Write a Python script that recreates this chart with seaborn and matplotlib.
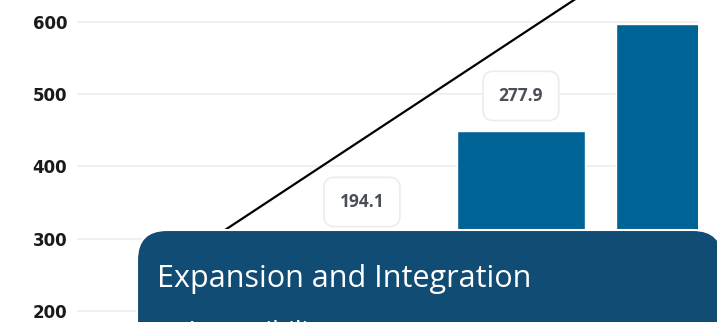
import matplotlib
matplotlib.use("Agg")
import matplotlib.pyplot as plt
from matplotlib.patches import FancyBboxPatch
import seaborn as sns

# Data
categories = ["Phase 1", "Phase 2", "Phase 3", "Phase 4"]
bar_values = [128.4, 194.1, 277.9, 362.6]     # bar series (secondary scale)
trend_values = [292, 437, 582, 727]          # growth line (left scale)
y_ticks = [200, 300, 400, 500, 600]

card_title = "Expansion and Integration"
card_item = "\u2022  Accessibility"

BAR_COLOR = "#006396"
CARD_COLOR = "#114c74"

sns.set_theme(style="white")
plt.rcParams["font.family"] = ["DejaVu Sans"]

fig = plt.figure(figsize=(7.17, 3.22), dpi=100)
fig.patch.set_facecolor("white")
ax = fig.add_axes([77 / 717, 0, 621 / 717, 1])
ax2 = ax.twinx()

# bars on the hidden secondary axis
sns.barplot(x=categories, y=bar_values, ax=ax2, color=BAR_COLOR,
            saturation=1, width=0.805, zorder=2)

# trend line on the left axis
ax.plot(range(len(categories)), trend_values, color="black", lw=1.6,
        solid_capstyle="round", zorder=3)

ax.set_xlim(-0.792, 3.114)
ax2.set_xlim(-0.792, 3.114)
ax.set_ylim(184.8, 630.4)
ax2.set_ylim(126.9, 381.4)

ax.set_yticks(y_ticks)
ax.set_yticklabels([str(t) for t in y_ticks], fontsize=12,
                   fontweight="bold", color="#1a1a1a")
ax.tick_params(axis="y", length=0, pad=7)
ax.set_xticks([])
ax2.set_yticks([])
ax2.set_xlabel("")
ax2.set_ylabel("")
ax.yaxis.grid(True, color="#efefef", lw=1.3)
ax.set_axisbelow(True)
for a in (ax, ax2):
    for s in a.spines.values():
        s.set_visible(False)

# value labels above the bars that stand clear of the card
card_top_value = 199.6
label_offset = 27.7
for i, v in enumerate(bar_values):
    pos = v + label_offset
    if pos < card_top_value or pos > ax2.get_ylim()[1]:
        continue
    ax2.text(i, pos, f"{v:.1f}", ha="center", va="center",
             fontsize=12.5, fontweight="bold", color="#4a4f57",
             family="Open Sans", zorder=4,
             bbox=dict(boxstyle="round,pad=0.9,rounding_size=0.6",
                       fc="white", ec="#ececec", lw=1.2))

# overlay card
card = FancyBboxPatch((1.37, -0.6), 5.86, 1.52,
                      boxstyle="round,pad=0,rounding_size=0.3",
                      transform=fig.dpi_scale_trans, fc=CARD_COLOR,
                      ec="white", lw=1.5, zorder=10)
fig.add_artist(card)
fig.text(1.57, 0.35, card_title, transform=fig.dpi_scale_trans,
         family="Open Sans", fontsize=22, color="white",
         va="baseline", ha="left", zorder=11)
fig.text(1.60, -0.17, card_item, transform=fig.dpi_scale_trans,
         family="Open Sans", fontsize=19, color="white",
         va="baseline", ha="left", zorder=11)

fig.savefig("out.png", dpi=100)
